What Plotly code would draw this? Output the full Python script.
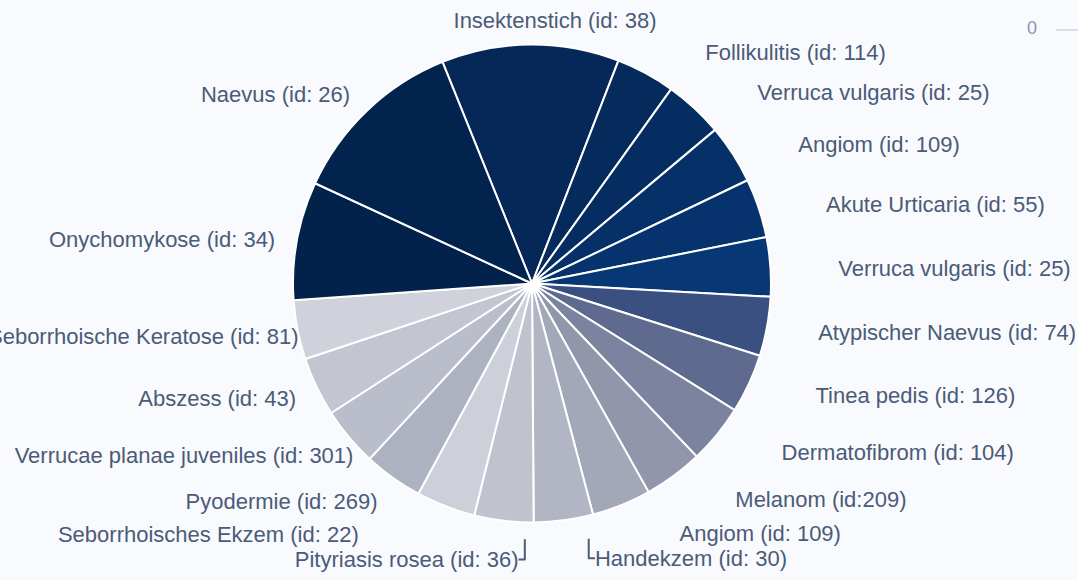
import math
import plotly.graph_objects as go

# slices clockwise, starting with Insektenstich
diagnoses = [
    "Insektenstich (id: 38)",
    "Follikulitis (id: 114)",
    "Verruca vulgaris (id: 25)",
    "Angiom (id: 109)",
    "Akute Urticaria (id: 55)",
    "Verruca vulgaris (id: 25)",
    "Atypischer Naevus (id: 74)",
    "Tinea pedis (id: 126)",
    "Dermatofibrom (id: 104)",
    "Melanom (id:209)",
    "Angiom (id: 109)",
    "Handekzem (id: 30)",
    "Pityriasis rosea (id: 36)",
    "Seborrhoisches Ekzem (id: 22)",
    "Pyodermie (id: 269)",
    "Verrucae planae juveniles (id: 301)",
    "Abszess (id: 43)",
    "Seborrhoische Keratose (id: 81)",
    "Onychomykose (id: 34)",
    "Naevus (id: 26)",
]
counts = [3, 1, 1, 1, 1, 1, 1, 1, 1, 1, 1, 1, 1, 1, 1, 1, 1, 1, 2, 3]
slice_colors = [
    "#052858", "#042b5c", "#052d62", "#053068", "#06336d", "#083775",
    "#3a5080", "#5f6b8e", "#7b839f", "#9196ab", "#a3a8b8", "#b2b5c3",
    "#c0c3ce", "#cdd0d9", "#acb2c0", "#babdca", "#c3c6d0", "#cfd2da",
    "#02214b", "#03234f",
]
keys = [str(i) for i in range(len(diagnoses))]

W, H = 1078, 580
ROT = -22
FONT = "Liberation Sans, Arial, sans-serif"
label_font = dict(family=FONT, size=22, color="#4b5b78")

# label distance from the pie, in non-breaking spaces (a few labels sit closer/further)
default_gap = 3.5
gap_override = {6: 1, 15: 0, 17: 0, 13: 16}


def spacer(n):
    s = "\u00a0" * int(n)
    if n - int(n) >= 0.5:
        s += "\u2009"
    return s


total = sum(counts)
label_text = []
cum = 0
for i, (name, v) in enumerate(zip(diagnoses, counts)):
    mid = math.radians(ROT + 360 * (cum + v / 2) / total)
    cum += v
    if i == 0:
        label_text.append("")  # shown as the centred title above the pie
        continue
    if abs(math.cos(mid)) > 0.95:
        label_text.append(name)
        continue
    gap = spacer(gap_override.get(i, default_gap))
    label_text.append(gap + name if math.sin(mid) > 0 else name + gap)

fig = go.Figure()

# transparent, slightly larger pie that only carries the outside labels
fig.add_trace(go.Pie(
    labels=keys, values=counts, text=label_text,
    textinfo="text", textposition="outside", automargin=False,
    sort=False, direction="clockwise", rotation=ROT,
    marker=dict(colors=["rgba(0,0,0,0)"] * len(keys), line=dict(width=0)),
    outsidetextfont=label_font,
    title=dict(text=diagnoses[0], position="top center", font=label_font),
    domain=dict(x=[300 / W, 810 / W], y=[1 - 541 / H, 1 - 6 / H]),
    showlegend=False, hoverinfo="skip",
))

# the visible pie
fig.add_trace(go.Pie(
    labels=keys, values=counts, text=diagnoses,
    textinfo="none", automargin=False,
    sort=False, direction="clockwise", rotation=ROT,
    marker=dict(colors=slice_colors, line=dict(color="white", width=2)),
    domain=dict(x=[293 / W, 771 / W], y=[1 - 522.5 / H, 1 - 44.5 / H]),
    showlegend=False, hoverinfo="text+value",
))

fig.add_annotation(x=1032 / W, y=1 - 28 / H, xref="paper", yref="paper",
                   xanchor="center", yanchor="middle",
                   text="0", showarrow=False,
                   font=dict(family=FONT, size=18, color="#8497b6"))
fig.add_shape(type="line", xref="paper", yref="paper",
              x0=1056 / W, x1=1.0, y0=1 - 30 / H, y1=1 - 30 / H,
              line=dict(color="#cfd6e0", width=1.5))

fig.update_layout(
    width=W, height=H,
    margin=dict(l=0, r=0, t=0, b=0, autoexpand=False),
    paper_bgcolor="#f8fafd",
    plot_bgcolor="#f8fafd",
)

fig.write_html("out.html", config={"displayModeBar": False},
               post_script="document.body.style.margin='0';")
